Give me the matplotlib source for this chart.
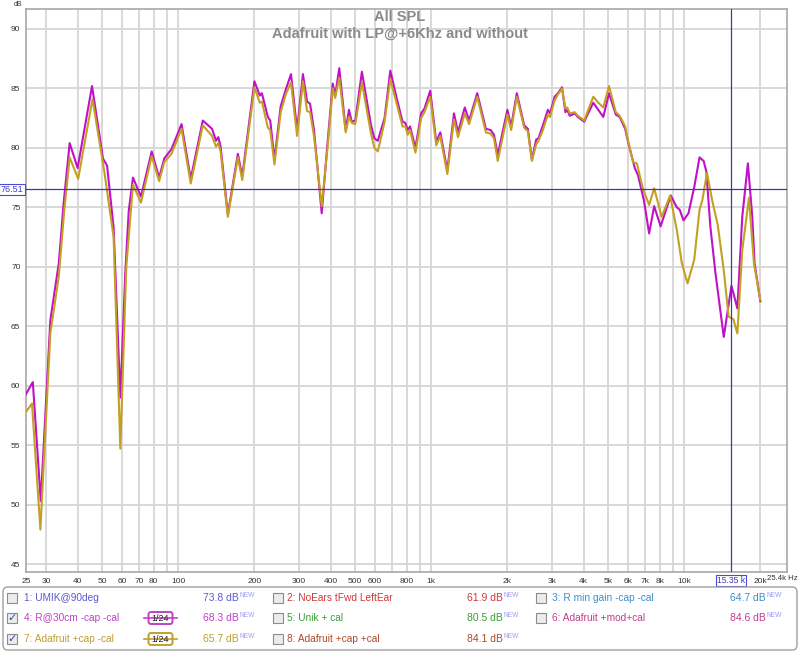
import matplotlib.pyplot as plt
from matplotlib.patches import FancyBboxPatch, Rectangle
from matplotlib.ticker import NullLocator

plt.rcParams['font.family'] = ['Liberation Sans', 'DejaVu Sans']

# trace 4: R@30cm -cap -cal (magenta)
freq_r = [25, 26.6, 28.6, 31.2, 33.7, 35.2, 37.2, 40.0, 45.6, 50.4, 52.3, 55.5, 59.0,
          61.7, 63.7, 66.2, 71.2, 78.5, 84, 88, 94, 103, 112, 125, 136, 141, 144, 147,
          157, 172, 179, 200, 210, 214, 226, 231, 240, 254, 266, 279, 295, 311, 323, 332,
          344, 369, 389, 408, 417, 433, 459, 473, 485, 501, 532, 578, 596, 615, 654, 689,
          728, 770, 790, 807, 825, 866, 912, 940, 991, 1047, 1086, 1158, 1230, 1276, 1357,
          1412, 1520, 1645, 1718, 1771, 1832, 2000, 2070, 2180, 2330, 2410, 2500, 2600,
          2655, 2764, 2892, 2950, 3075, 3170, 3289, 3393, 3450, 3529, 3694, 3800, 4024,
          4372, 4576, 4789, 5046, 5366, 5560, 5845, 6000, 6380, 6570, 6930, 7270, 7610,
          8070, 8850, 9350, 9600, 9940, 10400, 10960, 11500, 11940, 12240, 12690, 13290,
          13830, 14340, 15380, 16230, 16970, 17860, 18590, 18980, 20000]
spl_r = [59.3, 60.3, 50.3, 65.5, 70.3, 75.3, 80.4, 78.3, 85.2, 79.1, 78.5, 73.3, 59.0,
         69.4, 74.7, 77.5, 75.9, 79.7, 77.5, 79.1, 79.9, 82.0, 77.4, 82.3, 81.6, 80.6, 80.9, 80.1,
         74.4, 79.5, 77.6, 85.6, 84.4, 84.6, 82.6, 82.3, 79.0, 83.5, 84.9, 86.2, 81.5, 86.2, 83.9, 83.7,
         81.5, 74.5, 80.4, 85.4, 84.4, 86.7, 81.5, 83.2, 82.2, 82.3, 86.4, 81.9, 80.8, 80.6, 82.5, 86.5,
         84.3, 82.2, 82.1, 81.5, 81.8, 80.0, 82.9, 83.3, 84.8, 80.5, 81.3, 78.1, 82.9, 81.3, 83.4,
         82.3, 84.6, 81.6, 81.5, 81.1, 79.4, 83.2, 81.8, 84.6, 81.9, 81.6, 79.0, 80.7,
         80.8, 81.9, 83.2, 82.9, 84.3, 84.6, 85.1, 83.0, 83.2, 82.7, 82.9, 82.6, 82.2,
         83.8, 83.2, 82.6, 84.6, 82.8, 82.6, 81.6, 80.5, 78.3, 77.7, 75.6, 72.8, 75.1,
         73.4, 76.0, 75.0, 74.8, 73.9, 74.5, 76.7, 79.2, 78.9, 78.0, 73.4, 69.5,
         66.7, 64.1, 68.4, 66.5, 74.2, 78.7, 74.2, 70.3, 67.1]

# trace 7: Adafruit +cap -cal (gold)
freq_a = [25, 26.4, 28.5, 31.2, 33.7, 35.4, 37.2, 40.2, 45.8, 51.0, 55.5, 59.0, 62.3,
          66.2, 71.2, 78.5, 84, 88, 94, 103, 112, 125, 136, 141, 144, 147, 157, 172, 179,
          200, 210, 214, 226, 231, 240, 254, 266, 279, 295, 311, 323, 332, 344, 369, 389,
          408, 417, 433, 459, 473, 485, 501, 532, 578, 596, 615, 654, 689, 728, 770, 790,
          807, 825, 866, 912, 940, 991, 1047, 1086, 1158, 1230, 1276, 1357, 1412, 1520,
          1645, 1718, 1771, 1832, 2000, 2070, 2180, 2330, 2410, 2500, 2600, 2655, 2764,
          2892, 2950, 3075, 3170, 3289, 3393, 3450, 3529, 3694, 3800, 4024, 4372, 4576,
          4789, 5046, 5366, 5560, 5845, 6000, 6280, 6500, 6880, 7270, 7610, 8150, 8800,
          9350, 9790, 10310, 10960, 11500, 11800, 12310, 12900, 13580, 14340, 14990,
          15640, 16230, 16970, 18030, 18870, 20000]
spl_a = [57.8, 58.5, 47.9, 64.4, 69.2, 74.7, 79.2, 77.4, 84.1, 78.0, 72.5, 54.7, 70.0,
         76.9, 75.4, 79.3, 77.2, 78.8, 79.5, 81.6, 77.0, 81.9, 81.0, 80.1, 80.4, 79.7, 74.2, 79.2, 77.3,
         85.1, 83.8, 83.9, 81.7, 81.5, 78.6, 83.0, 84.5, 85.5, 81.0, 85.6, 83.1, 83.0, 81.0, 75.1, 80.0,
         85.0, 84.2, 85.9, 81.3, 82.6, 82.1, 82.0, 85.5, 81.2, 80.0, 79.7, 82.2, 85.8, 83.8, 81.8, 81.8,
         81.1, 81.5, 79.6, 82.5, 83.0, 84.3, 80.2, 81.0, 77.8, 82.4, 80.9, 82.9, 82.0, 84.3,
         81.3, 81.2, 80.8, 78.9, 82.8, 81.5, 84.3, 81.7, 81.4, 78.9, 80.3, 80.6, 81.5,
         82.8, 82.6, 84.0, 84.5, 85.0, 83.3, 83.4, 82.9, 83.0, 82.7, 82.3, 84.3, 83.8,
         83.4, 85.2, 83.0, 82.7, 81.8, 80.6, 78.8, 78.7, 76.5, 75.2, 76.6, 74.2, 76.0,
         73.1, 70.3, 68.6, 70.6, 74.8, 75.6, 77.9, 75.6, 73.5, 69.7, 65.8,
         65.6, 64.4, 71.4, 75.8, 70.3, 67.2]

x_ticks = [25, 30, 40, 50, 60, 70, 80, 100, 200, 300, 400, 500, 600, 800,
           1000, 2000, 3000, 4000, 5000, 6000, 7000, 8000, 10000, 20000]
x_labels = ['25', '30', '40', '50', '60', '70', '80', '100', '200', '300', '400', '500', '600', '800',
            '1k', '2k', '3k', '4k', '5k', '6k', '7k', '8k', '10k', '20k']
grid_f = [30, 40, 50, 60, 70, 80, 90, 100, 200, 300, 400, 500, 600, 700, 800, 900,
          1000, 2000, 3000, 4000, 5000, 6000, 7000, 8000, 9000, 10000, 20000]
y_ticks = [45, 50, 55, 60, 65, 70, 75, 80, 85, 90]

cursor_f = 15350
cursor_db = 76.51

# legend panel entries
trace_names = ['1: UMIK@90deg', '2: NoEars tFwd LeftEar', '3: R min gain -cap -cal',
               '4: R@30cm -cap -cal', '5: Unik + cal', '6: Adafruit +mod+cal',
               '7: Adafruit +cap -cal', '8: Adafruit +cap +cal']
trace_values = ['73.8', '61.9', '64.7', '68.3', '80.5', '84.6', '65.7', '84.1']
trace_colors = ['#5a5ad0', '#d03838', '#3a90c8', '#c040c8', '#38a038', '#c83890', '#bfa030', '#b04828']
trace_checked = [False, False, False, True, False, False, True, False]

col_r = '#c010c8'
col_a = '#c4a022'

fig = plt.figure(figsize=(8, 6.52), dpi=100)
ax = fig.add_axes([26 / 800, 1 - 572 / 652, 761 / 800, 563 / 652])
ax.set_xscale('log')
ax.set_xlim(25, 25500)
ax.set_ylim(44.33, 91.68)

for f in grid_f:
    ax.axvline(f, color='#d6d6d6', lw=1.3, zorder=0)
for y in y_ticks:
    ax.axhline(y, color='#d6d6d6', lw=1.3, zorder=0)

ax.plot(freq_r, spl_r, color=col_r, lw=1.5, solid_joinstyle='round', zorder=3)
ax.plot(freq_a, spl_a, color=col_a, lw=1.5, solid_joinstyle='round', zorder=4)

ax.axvline(cursor_f, color='#3a3ab0', lw=0.9, zorder=5)
ax.axhline(cursor_db, color='#3a3ab0', lw=0.9, zorder=5)

ax.set_xticks(x_ticks)
ax.set_xticklabels(x_labels)
ax.xaxis.set_minor_locator(NullLocator())
ax.set_yticks(y_ticks)
ax.tick_params(length=0, labelsize=6, colors='#333333', pad=4)
for s in ax.spines.values():
    s.set_color('#a8a8a8')
    s.set_linewidth(1.2)

# cursor readouts
ax.annotate('15.35 k', xy=(cursor_f, 0), xycoords=('data', 'axes fraction'), xytext=(0, -3),
            textcoords='offset points', ha='center', va='top', fontsize=6.2, color='#3a3ad0',
            bbox=dict(boxstyle='square,pad=0.12', fc='white', ec='#4a4ad8', lw=0.8))
ax.annotate('76.51', xy=(0, cursor_db), xycoords=('axes fraction', 'data'), xytext=(-2, 0),
            textcoords='offset points', ha='right', va='center', fontsize=6.5, color='#3a3ad0',
            bbox=dict(boxstyle='square,pad=0.15', fc='white', ec='#4a4ad8', lw=0.8))

fig.text(767 / 800, 1 - 579 / 652, '25.4k Hz', ha='left', va='center', fontsize=5.6, color='#333333')
fig.text(18 / 800, 1 - 5 / 652, 'dB', ha='center', va='center', fontsize=5, color='#333333')

# title
fig.text(0.5, 1 - 17 / 652, 'All SPL', ha='center', va='center', fontsize=10.5,
         fontweight='bold', color='#8a8a8a')
fig.text(0.5, 1 - 34 / 652, 'Adafruit with LP@+6Khz and without', ha='center', va='center',
         fontsize=10.5, fontweight='bold', color='#8a8a8a')

# legend panel in pixel coordinates
lg = fig.add_axes([0, 0, 1, 1])
lg.set_xlim(0, 800)
lg.set_ylim(652, 0)
lg.axis('off')
lg.patch.set_visible(False)
lg.add_patch(FancyBboxPatch((3, 587), 794, 63, boxstyle='round,pad=0,rounding_size=5',
                            fc='white', ec='#a0a0a0', lw=1))

box_x = [12, 278, 541]
name_x = [24, 287, 552]
val_x = [203, 467, 730]
row_y = [598, 618, 639]

for i, name in enumerate(trace_names):
    r, c = divmod(i, 3)
    y = row_y[r]
    lg.add_patch(Rectangle((box_x[c] - 5, y - 5), 10, 10, fc='#ececec', ec='#8c8c8c', lw=0.8))
    if trace_checked[i]:
        lg.text(box_x[c], y, '\u2713', ha='center', va='center', fontsize=8,
                color='#2f4fa8', family='DejaVu Sans', fontweight='bold')
        lg.plot([144, 177], [y, y], color=trace_colors[i], lw=1.2)
        lg.add_patch(FancyBboxPatch((148.5, y - 6), 24, 12, boxstyle='round,pad=0,rounding_size=2.5',
                                    fc='white', ec=trace_colors[i], lw=1.4))
        lg.text(160.5, y + 0.5, '1/24', ha='center', va='center', fontsize=6.5, color='#222222')
    lg.text(name_x[c], y, name, ha='left', va='center', fontsize=7.3, color=trace_colors[i])
    t = lg.text(val_x[c], y, trace_values[i] + ' dB', ha='left', va='center', fontsize=7.5,
                color=trace_colors[i])
    lg.annotate('NEW', xy=(1, 1), xycoords=t, xytext=(0.5, -1.5), textcoords='offset points',
                ha='left', va='center', fontsize=4.8, color='#9a9af0')

fig.savefig('out.png', dpi=100)
